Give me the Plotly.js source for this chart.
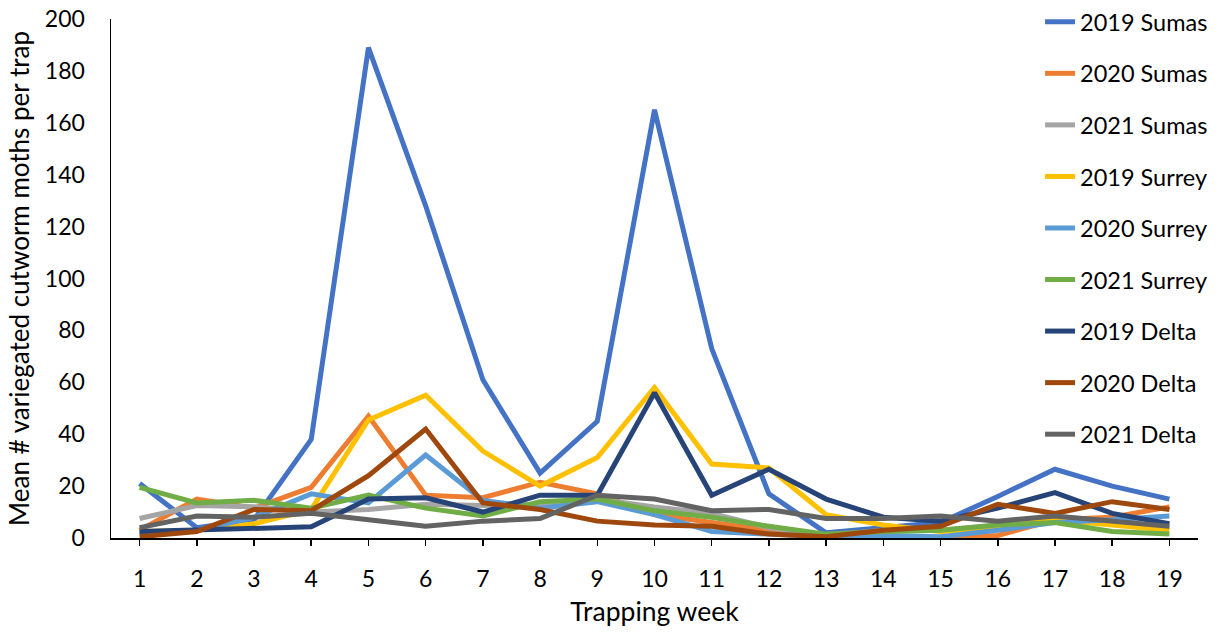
<!DOCTYPE html>
<html>
<head>
<meta charset="utf-8">
<script src="https://cdn.plot.ly/plotly-3.0.1.min.js"></script>
<style>html,body{margin:0;padding:0;background:#fff}#chart{width:1220px;height:632px}</style>
</head>
<body>
<div id="chart"></div>
<script>
const weeks = [1,2,3,4,5,6,7,8,9,10,11,12,13,14,15,16,17,18,19];
const seriesNames = ["2019 Sumas","2020 Sumas","2021 Sumas","2019 Surrey","2020 Surrey","2021 Surrey","2019 Delta","2020 Delta","2021 Delta"];
const sumas2019  = [21,4,7,38,189,128,61,25,45,165,73,17,2,4,6,16,26.5,20,15];
const sumas2020  = [3,15,11.5,19.5,47,16.5,15.5,21.5,17,9,6,3,0.5,1,0,1,7,8,12];
const sumas2021  = [7.5,12.5,12,10,11,13,12.5,13,15,12,9.5,4,1,3,3,5,7,6,4];
const surrey2019 = [2.5,3,5.5,11,45.5,55,33.5,20,31,58,28.5,27,9,5,2.5,4,7,5,3];
const surrey2020 = [2,3,8,17,13.5,32,14.5,11.5,14,9,2.5,1.5,0.5,1,0.5,3,6,7,8.5];
const surrey2021 = [19.5,13.5,14.5,11.5,16.5,11.5,8.5,14,15,10.5,8,4.5,1.5,2.5,3,5,6,2.5,1.5];
const delta2019  = [2.5,3,3.5,4.3,15,15.5,10,16.5,16.5,56,16.5,26.5,15,8,6.5,11.5,17.5,9.5,5.5];
const delta2020  = [0.5,2.5,11,10.5,24,42,13.5,11,6.5,5,4.5,1.5,0.5,3,4.5,13,9.5,14,11];
const delta2021  = [4,8.5,8,9.5,7,4.5,6.5,7.5,16.5,15,10.5,11,7.5,7.5,8.5,6.5,8.5,6.5,4.5];
const xTickLabels = ["1","2","3","4","5","6","7","8","9","10","11","12","13","14","15","16","17","18","19"];

const values = [sumas2019,sumas2020,sumas2021,surrey2019,surrey2020,surrey2021,delta2019,delta2020,delta2021];
const colors = ["#4472C4","#ED7D31","#A5A5A5","#FFC000","#5B9BD5","#70AD47","#264478","#9E480E","#636363"];

const traces = values.map((v,i)=>({
  type:"scatter", mode:"lines", x:weeks, y:v, name:seriesNames[i],
  legendgroup:"g"+i,
  line:{color:colors[i], width:5}
}));

const FONT = "Lato, 'Open Sans', 'Liberation Sans', sans-serif";
const layout = {
  width:1220, height:632,
  margin:{l:111, r:22, t:19, b:94, autoexpand:false},
  paper_bgcolor:"#fff", plot_bgcolor:"rgba(0,0,0,0)",
  font:{family:FONT, size:22, color:"#000"},
  showlegend:true,
  legend:{x:0.8547, xref:"paper", y:1.0, yref:"container", xanchor:"left", yanchor:"top",
          bgcolor:"rgba(0,0,0,0)", maxheight:620,
          font:{family:FONT, size:23.5, color:"#000"}, tracegroupgap:18},
  xaxis:{
    range:[0.5,19.5], tickmode:"array", tickvals:weeks, ticktext:xTickLabels,
    showgrid:false, zeroline:false, showline:true, linecolor:"#000", linewidth:1.5,
    ticks:"outside", ticklen:6, tickcolor:"#000", tickwidth:1.5, ticklabelstandoff:14,
    tickfont:{family:FONT, size:23, color:"#000"},
    title:{text:"Trapping week", font:{family:FONT, size:26.5, color:"#000"}, standoff:11}
  },
  yaxis:{
    range:[0,200], dtick:20, tick0:0,
    showgrid:false, zeroline:false, showline:true, linecolor:"#000", linewidth:1.5,
    ticks:"", ticklabelstandoff:20,
    tickfont:{family:FONT, size:23, color:"#000"},
    title:{text:"Mean # variegated cutworm moths per trap", font:{family:FONT, size:26, color:"#000"}, standoff:8}
  }
};
Plotly.newPlot("chart", traces, layout, {displayModeBar:false, staticPlot:true});
</script>
</body>
</html>
